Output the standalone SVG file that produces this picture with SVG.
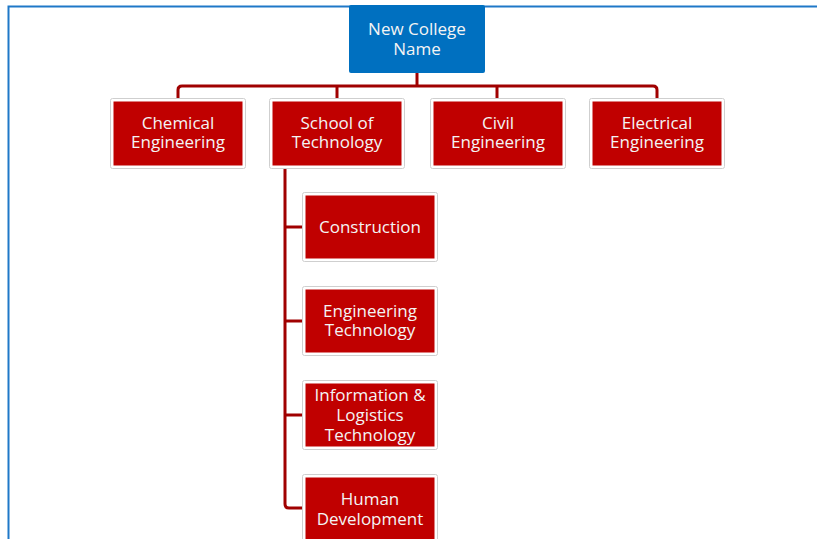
<svg xmlns="http://www.w3.org/2000/svg" width="817" height="539" viewBox="0 0 817 539">
  <style>
    .frame { fill: none; stroke: #1f78c8; stroke-width: 2; }
    .link { fill: none; stroke: #a00000; stroke-width: 3; stroke-linejoin: round; }
    .mat { fill: #ffffff; stroke: #cfcfcf; stroke-width: 1; }
    .unit { fill: #c00000; }
    .root { fill: #0070c0; }
    .lbl { font-family: "Open Sans", "Noto Sans", "DejaVu Sans", sans-serif; font-size: 17px; fill: #f4f4f4; text-anchor: middle; }
  </style>
  <rect width="817" height="539" fill="#ffffff"/>

  <!-- page frame -->
  <path class="frame" d="M8.5,539 V6.5 H817"/>

  <!-- connectors -->
  <g id="connectors">
    <path class="link" d="M417,73 V86"/>
    <path class="link" d="M178,98 V90 Q178,86 182,86 H653 Q657,86 657,90 V98"/>
    <path class="link" d="M337,86 V98"/>
    <path class="link" d="M497,86 V98"/>
    <path class="link" d="M285,168 V504 Q285,508 289,508 H303"/>
    <path class="link" d="M285,227 H303"/>
    <path class="link" d="M285,321 H303"/>
    <path class="link" d="M285,415 H303"/>
  </g>

  <!-- root -->
  <g id="college">
    <rect class="root" x="349" y="5" width="136" height="68" rx="2"/>
    <text class="lbl" x="417" y="35">New College</text>
    <text class="lbl" x="417" y="55">Name</text>
  </g>

  <!-- departments -->
  <g id="chemical">
    <rect class="mat" x="110.5" y="98.5" width="135" height="70" rx="2"/>
    <rect class="unit" x="113.5" y="101.5" width="129" height="64"/>
    <text class="lbl" x="178" y="129">Chemical</text>
    <text class="lbl" x="178" y="148">Engineering</text>
  </g>
  <g id="technology">
    <rect class="mat" x="269.5" y="98.5" width="135" height="70" rx="2"/>
    <rect class="unit" x="272.5" y="101.5" width="129" height="64"/>
    <text class="lbl" x="337" y="129">School of</text>
    <text class="lbl" x="337" y="148">Technology</text>
  </g>
  <g id="civil">
    <rect class="mat" x="430.5" y="98.5" width="135" height="70" rx="2"/>
    <rect class="unit" x="433.5" y="101.5" width="129" height="64"/>
    <text class="lbl" x="498" y="129">Civil</text>
    <text class="lbl" x="498" y="148">Engineering</text>
  </g>
  <g id="electrical">
    <rect class="mat" x="589.5" y="98.5" width="135" height="70" rx="2"/>
    <rect class="unit" x="592.5" y="101.5" width="129" height="64"/>
    <text class="lbl" x="657" y="129">Electrical</text>
    <text class="lbl" x="657" y="148">Engineering</text>
  </g>

  <!-- programmes under School of Technology -->
  <g id="construction">
    <rect class="mat" x="302.5" y="192.5" width="135" height="69" rx="2"/>
    <rect class="unit" x="305.5" y="195.5" width="129" height="63"/>
    <text class="lbl" x="370" y="233">Construction</text>
  </g>
  <g id="engineering-technology">
    <rect class="mat" x="302.5" y="286.5" width="135" height="69" rx="2"/>
    <rect class="unit" x="305.5" y="289.5" width="129" height="63"/>
    <text class="lbl" x="370" y="317">Engineering</text>
    <text class="lbl" x="370" y="336">Technology</text>
  </g>
  <g id="information-logistics">
    <rect class="mat" x="302.5" y="380.5" width="135" height="69" rx="2"/>
    <rect class="unit" x="305.5" y="383.5" width="129" height="63"/>
    <text class="lbl" x="370" y="401">Information &amp;</text>
    <text class="lbl" x="370" y="421">Logistics</text>
    <text class="lbl" x="370" y="441">Technology</text>
  </g>
  <g id="human-development">
    <rect class="mat" x="302.5" y="474.5" width="135" height="69" rx="2"/>
    <rect class="unit" x="305.5" y="477.5" width="129" height="63"/>
    <text class="lbl" x="370" y="505">Human</text>
    <text class="lbl" x="370" y="525">Development</text>
  </g>
</svg>
